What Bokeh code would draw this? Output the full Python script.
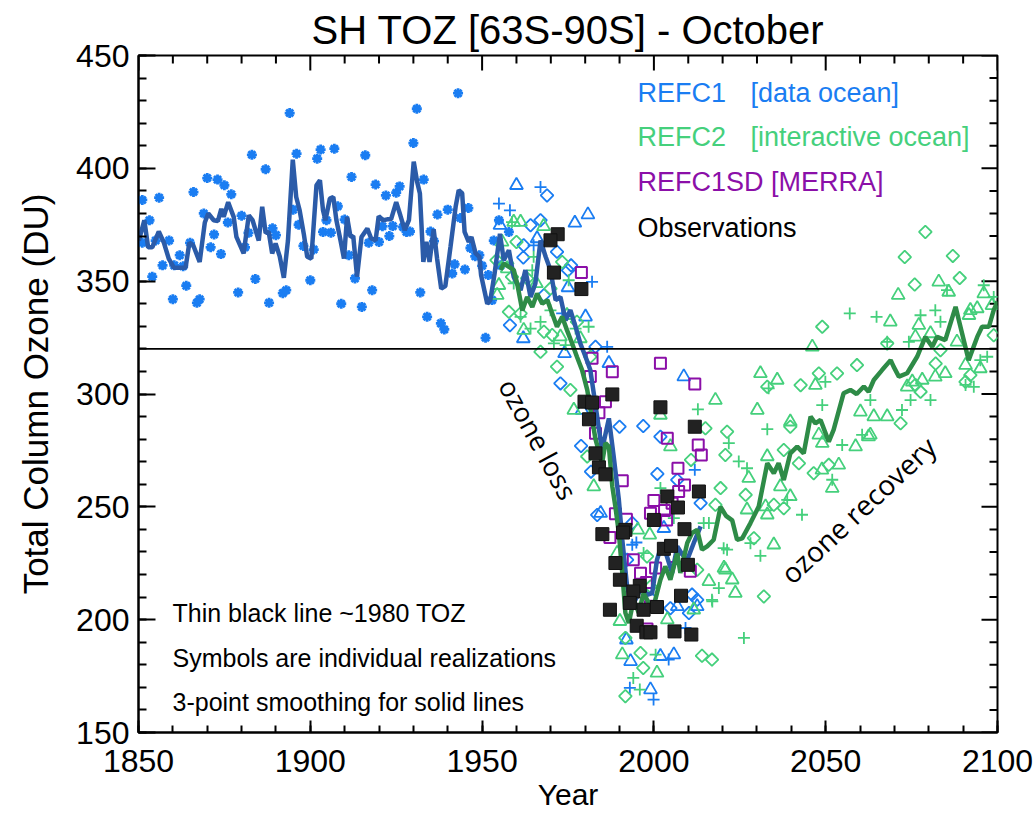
import math
from bokeh.plotting import figure
from bokeh.models import Range1d, Label, Span, SingleIntervalTicker
from bokeh.embed import file_html
from bokeh.resources import INLINE

# ---------------- data ----------------
star_yr = [1851.1, 1851.1, 1853.2, 1854, 1855, 1856, 1857, 1858.9, 1860, 1860.4, 1862, 1863, 1863.9, 1865, 1866,
           1867, 1867.8, 1869, 1870, 1871, 1872, 1873, 1874, 1875, 1876, 1877, 1879, 1880, 1881, 1882, 1883, 1884,
           1887, 1888, 1889, 1890, 1892, 1893, 1894, 1895, 1896, 1896.6, 1898, 1900, 1901, 1902, 1903, 1903.7,
           1904.7, 1906, 1907, 1908, 1909, 1910, 1911.2, 1912, 1913, 1915, 1916, 1917, 1918, 1919, 1920, 1921,
           1922, 1923, 1924, 1925, 1926, 1927, 1928, 1929, 1930, 1931, 1932, 1933, 1934, 1935, 1936, 1937, 1938,
           1939, 1940, 1941.3, 1942, 1943, 1943.7, 1945, 1946, 1946.6, 1948, 1949.2, 1950, 1951, 1951.8, 1952.9,
           1953.4, 1954.9, 1955.4, 1957.8]
star_du = [386, 367, 377, 352, 368, 387, 357, 368, 342, 357, 361.5, 356.6, 348, 367, 389.5,
           340.4, 342, 380, 395.7, 365, 370.7, 395, 362, 392.5, 376, 388.5, 345, 379, 365, 371.4, 406, 351,
           399.6, 340.4, 373.4, 370.4, 344.7, 346, 424.5, 381.7, 406.5, 375, 365.6, 350.4, 364, 404.3, 408.3, 371.8,
           377, 371.5, 408.7, 383.2, 340, 377.3, 361.5, 396.2, 351.2, 338.6, 405.8, 367, 346, 392.8, 367.4, 374.3,
           388, 370, 374.4, 389.2, 392, 374, 371.8, 372, 411.2, 426.4, 345, 395, 334.2, 372, 367.7, 379.5, 331.3,
           328.6, 381.7, 353.4, 357.5, 433.3, 378, 355.2, 382.4, 364.7, 361, 361.5, 356.8, 324.9, 352.7, 341.6,
           368, 377, 357, 371.8]

refc1_mean_yr = [1850.1, 1851.7, 1852.8, 1854, 1855.9, 1857.4, 1858.8, 1860.3, 1862.2, 1863.7, 1864.8, 1865.9,
                 1867.8, 1869.3, 1870.3, 1871.9, 1873.1, 1874.1, 1874.8, 1876.1, 1877.7, 1878.5, 1880.6, 1882.1,
                 1883.2, 1885, 1886, 1887, 1887.9, 1888.9, 1889.9, 1891.1, 1892.3, 1893.5, 1894.9, 1895.9, 1896.9,
                 1898.1, 1899.1, 1900.3, 1901.8, 1902.8, 1903.7, 1904.4, 1905.7, 1906.7, 1907.6, 1908.8, 1909.8,
                 1910.7, 1911.7, 1912.5, 1913.6, 1914.9, 1916.6, 1917.7, 1919, 1919.9, 1921.2, 1922.4, 1923.5, 1925,
                 1926.2, 1927.5, 1928.7, 1930.1, 1931.1, 1931.9, 1932.9, 1933.8, 1934.7, 1935.9, 1936.9, 1938.1,
                 1939.3, 1940.8, 1942.3, 1943.2, 1944.2, 1944.9, 1946.1, 1946.9, 1948.1, 1949.2, 1949.7, 1951.5,
                 1952.4, 1953.6, 1955.2, 1956.3, 1957.8, 1959.2, 1961.2, 1962.6, 1964.1, 1965.5, 1967, 1968.5, 1969.9,
                 1971.4, 1972.8, 1974.3, 1975.7, 1977.2, 1978.6, 1980.1, 1981.5, 1982.5, 1984.9, 1986.9, 1988.3,
                 1989.8, 1990.8, 1992.2, 1993.7, 1995.1, 1996.6, 1998, 1999.5, 2000.9, 2002.4, 2003.8, 2005.3,
                 2006.8, 2008.2, 2009.7, 2011.6, 2013.6]
refc1_mean_du = [368, 377, 365, 365, 372, 367, 360, 356, 356, 356, 367, 366,
                 358.5, 376, 380, 377, 376.6, 382, 378.5, 385, 378.5, 369.6, 362.3, 379.2,
                 377, 368, 383, 371.4, 371.8, 362.3, 366.7, 361, 351.5, 368, 403.8, 387.3, 381.4,
                 371, 360.8, 360, 392.5, 394.7, 381.4, 377, 386.6, 387.3, 377, 368, 360,
                 378.5, 369.6, 370, 352, 369.6, 373.3, 369, 368, 378.8, 377, 377.4, 377.4, 385,
                 379.2, 372.6, 377, 403, 394, 388.8, 358.5, 367.4, 358.5, 373, 360, 346.7,
                 347.8, 365.2, 383, 390.3, 389, 371.8, 367.4, 369.6, 362.3, 360.8, 352.7, 340,
                 341.6, 353, 371, 359.3, 363.7, 351.9, 346, 354.9, 343, 349, 368, 360.8, 354.9,
                 341.6, 343, 332.7, 337.2, 329.8, 322.4, 316.5, 310.6, 300.3, 275.2, 289.2, 272.3,
                 253.1, 235.4, 214.7, 205.9, 210.3, 214.8, 211, 211.8, 226.5, 234, 228, 220.7,
                 232.5, 229, 226.5, 234, 241.3]

refc2_mean_yr = [1955.4, 1956.3, 1957.8, 1959.2, 1960.2, 1961.7, 1963.1, 1964.6, 1966, 1967.5, 1969, 1970.4,
                 1971.8, 1973.3, 1974.7, 1976.2, 1977.6, 1979.1, 1980.6, 1982, 1983, 1984.9, 1985.9, 1986.9,
                 1987.9, 1988.8, 1989.8, 1990.8, 1991.7, 1992.7, 1994.1, 1995.6, 1997, 1998.5, 1999.9, 2001.9,
                 2003.3, 2004.8, 2006.8, 2007.7, 2009.7, 2011.1, 2012.6, 2014, 2015.5, 2017.4, 2019.4, 2021,
                 2022.8, 2024.2, 2025.7, 2028.1, 2030.5, 2033, 2034.9, 2036.3, 2037.8, 2039.7, 2041.7, 2043.6,
                 2045.6, 2047, 2048.5, 2050.9, 2052.3, 2055.2, 2057.2, 2059, 2061.1, 2062.5, 2064, 2066.4, 2068.9,
                 2069.8, 2071.3, 2073.7, 2076.6, 2079, 2081, 2082.4, 2084.8, 2087.8, 2089.7, 2091.6, 2094.1,
                 2095.5, 2097.5, 2098.9, 2100]
refc2_mean_du = [355, 357.8, 356.3, 355, 349, 337, 343, 338.6, 344.5, 340, 341.6, 335.7,
                 329.8, 334.2, 328.3, 322.4, 316.5, 310.6, 301.8, 289, 280, 269.3, 278.2, 276.7,
                 259, 250, 238.4, 220.7, 203, 198.5, 208.8, 203, 211.8, 207.4, 205.9, 217.7,
                 223.6, 217.7, 229.5, 220.7, 234, 238.4, 239.8, 231, 232.5, 235.4, 250, 246,
                 244, 235.4, 236, 242.8, 250.1, 269.3, 264.9, 269.3, 261.9, 273.7, 276.7, 273.7,
                 290, 287, 288.5, 278.9, 284.1, 300.3, 301.8, 300, 303.3, 301, 306.2, 310.6, 315,
                 312, 307.7, 309.2, 316.5, 325.3, 320.9, 325.3, 323.9, 338.6, 326.8, 315, 325.3,
                 329.8, 329.8, 337.2, 341]

c1_dia_yr = [1968.9, 1964.1, 1967, 1971.8, 1975, 1975.9, 1962, 1958.1, 1968, 1962.1, 1983, 1972.8, 1990, 1996.9,
             2001.9, 1978.8, 1981.7, 2001, 2006.8, 2013.6, 1993.7, 2004.8, 2011.1, 2012.6, 2010.2, 1983.5, 1992.2,
             1999]
c1_dia_du = [388, 374.8, 377, 363, 354.8, 357, 360.5, 330.5, 343.8, 365.9, 320.9, 304.7, 285.5, 285.8,
             281.1, 277, 265.6, 264.6, 261.9, 251.6, 242.8, 205.1, 211.1, 208.8, 202.9, 246.4, 226.5,
             209.6]
c1_tri_yr = [1960, 1980.8, 1977, 1980.1, 1975, 1966, 1962, 1974, 1955.2, 1986.9, 1979.1, 2008.7, 2002.9, 1984.5,
             1992, 1993.2, 2005.8, 1999, 2001.9, 2006.8, 2012.6]
c1_tri_du = [392.5, 379.5, 375.8, 334.2, 347.2, 368.9, 324.6, 318, 374.8, 313.6, 292.9, 307.7, 240.5, 247.2,
             191.1, 181.5, 184.5, 169, 183.8, 205.9, 205.9]
c1_plus_yr = [1954.9, 1958.1, 1967, 1982, 1973.3, 1965, 1986.4, 2011.9, 1994.9, 1993.7, 2004.3, 2009.2, 1993,
              1999.9]
c1_plus_du = [384.4, 381.4, 391.7, 349.7, 335.7, 365.9, 320.9, 266.4, 234.2, 233.2, 182.3, 196.3, 169.8,
              164.6]

c2_tri_yr = [1959.2, 1961.2, 1967.9, 1955.8, 1954.9, 1957.3, 1965.8, 1974.7, 1978.6, 1972.8, 1962.1, 1954.4,
             1957.3, 2017.9, 2004.8, 2001.9, 1998.8, 1995.3, 1990.1, 1990.8, 2000.9, 2003.9, 2016, 2020.4, 2011.6,
             1982.5, 1976.7, 1989.3, 2027.6, 2033, 2033, 2034.9, 2036.8, 2039.7, 2048.9, 2051.9, 2053.8, 2058.7,
             2063, 2027.1, 2020.8, 2022.8, 2023.7, 2071.1, 2082.9, 2085.8, 2096, 2068.8, 2077.1, 2046.1, 2031,
             2035.9, 2030.1, 2047, 2092.1, 2094.1, 2098.4, 2088.2, 2060.1, 2064, 2067.9, 2081.9, 2084.8, 2062.5,
             2075.2, 2039.7, 2080.5, 2091.7, 2076.1, 2078.1, 2090.7, 2073.7, 2095, 2048, 2032.5, 2049]
c2_tri_du = [376.2, 376.2, 374.3, 367.4, 348.2, 355.6, 349, 334.9, 324.6, 325.4, 328.3, 343.8,
             359.3, 297.3, 276.7, 290.7, 237.6, 239.8, 199.3, 184.5, 176.4, 200, 217, 222.9, 204.4,
             259, 292.9, 229.5, 262.7, 272.3, 246.5, 233.2, 259, 254.6, 266.4, 258.3, 268.6, 276.7,
             281.9, 248.7, 222.1, 217.7, 211.8, 343.8, 349.7, 345.2, 344.5, 332, 330.5, 320.9, 309.1,
             306.2, 292.9, 303.9, 337.1, 337.9, 339.3, 323.1, 292.1, 290, 290, 307.6, 309.1, 281.1,
             305.4, 287.7, 326.8, 334.9, 325.3, 306.2, 312.8, 303.2, 311.3, 281.9, 250.1, 278.2]
c2_dia_yr = [1960, 1973.3, 1963.1, 1957.8, 1961.2, 1967, 1970.4, 1977.6, 1981.5, 1969.9, 1954.2, 1968, 1971.8,
             1958.7, 1975.7, 2015, 2020.8, 2021.3, 2010.8, 2017.9, 2019.4, 1991.7, 1996.1, 1996.9, 1991.7, 2014,
             2016.9, 2012.6, 1980.6, 1998, 1999, 2032, 2026.7, 2029.1, 2034.9, 2037.8, 2046.5, 2050.9, 2071.8,
             2042.2, 2079, 2073, 2087, 2089, 2075.9, 2049, 2048, 2033, 2042.7, 2053.3, 2082, 2083.4, 2090.7,
             2098.9, 2067.9, 2059.1, 2076.1, 2077.6, 2092.1, 2039.7, 2037.8]
c2_dia_du = [367.4, 358.5, 351.2, 336.4, 335.7, 318.7, 326.1, 332, 316.5, 346.7, 359.3, 327.6, 312.1,
             351.9, 301.8, 284.8, 273, 283.3, 270.8, 250.9, 258.3, 191.9, 185.2, 178.6, 166.1, 184,
             182.3, 222.1, 272.3, 228, 214.7, 210.3, 255.3, 236.1, 250.9, 275.2, 264.9, 268.6, 287,
             269.3, 371.8, 360.7, 361.2, 351.4, 348.5, 329.8, 309.1, 303.2, 303.9, 309.1, 313.5, 319.4, 305.4,
             326, 322.4, 312.8, 304, 301, 308.4, 285.5, 249.4]
c2_plus_yr = [1958.7, 1965, 1959.2, 1964.6, 1975.2, 1967, 1981, 1977.2, 1969.9, 1961.2, 1964.1, 1974.3, 1970.9,
              2012.8, 2016.9, 2018.9, 1994, 1995.9, 2001.9, 1997, 2016, 2000.5, 2021.3, 2005.8, 2033, 2021.8,
              2024.7, 2043.1, 2054.8, 2060.6, 2026.2, 2031, 2017, 2028.1, 2020.3, 2051.9, 2057, 2064.8, 2077.6,
              2081.9, 2096, 2098.9, 2074.2, 2067.9, 2049.9, 2033.4, 2049, 2063, 2074.7, 2080.5, 2072.2, 2093.1,
              2085.3, 2097, 2083.4, 2095, 2090.7, 2027.1, 2014.5, 2038.8]
c2_plus_du = [376.2, 360.8, 349, 354.8, 350.4, 332, 329.8, 329, 337.1, 334.2, 329, 321.7, 322.4,
              293.2, 208.8, 214, 174.2, 169, 258.3, 229.5, 242.8, 184.5, 231, 245, 284.4, 278.2,
              270.1, 246.5, 277.4, 281.9, 191.9, 228.3, 208.1, 233.9, 231.7, 262, 335.7, 334.2, 334.9,
              337.1, 348.2, 343, 323.1, 323.1, 305.4, 302.5, 295.1, 297.3, 297.3, 297.3, 292.9, 303.2,
              346, 316.5, 332, 315, 304, 267.1, 242.8, 253.1]

sd_yr = [1978.9, 1982, 2001.9, 1987.9, 2011.9, 1981.5, 1985.9, 1984, 1983, 2003.9, 2012.9, 2013.8, 1990.8, 2007,
         2008.9, 2000, 2003.1, 1992, 1988.8, 1987.2, 1994, 1996.1, 1997.8, 2007.2, 2010.6, 1998, 2003.7, 2005.3,
         1999, 2000.5, 2005.7, 1999]
sd_du = [353.8, 315.8, 313.6, 309.9, 304.4, 307.7, 296.6, 291.7, 282.6, 280.4, 277.4, 273, 261.6, 267.1,
         259.7, 252.8, 248.4, 244.5, 246.9, 236.4, 226.5, 220.6, 216.5, 256.8, 221.4, 195.9, 244.2, 251.6,
         247.2, 222.9, 228, 205.9]

obs_yr = [1972, 1969.9, 1970.9, 1978.9, 1987.9, 1979.8, 1982, 1981.1, 2001.9, 2011.9, 1983, 1984, 1985.9, 2003.9,
          2007, 2013.1, 2000, 2008.9, 1985, 1991.7, 1991, 2002.9, 2005, 2009.9, 1988.8, 1990.1, 1995.9, 1994, 1993,
          1987.2, 1997, 2000.9, 2007.9, 1995, 1997.8, 1999, 2006, 2010.9]
obs_du = [370.8, 368.1, 353.8, 346.5, 299.8, 296.6, 296.2, 288.8, 294.1, 285.5, 273.7, 267.5, 264.4, 254.6,
          249.7, 256.8, 244.2, 240.1, 237.9, 239.8, 238.6, 231.4, 232.7, 224.3, 225.1, 217.7, 215, 212.5, 207.4,
          204.4, 204.4, 205.6, 210.6, 197.3, 194.4, 194.4, 194.8, 193.4]

toz_1980 = 320

X_MIN, X_MAX, Y_MIN, Y_MAX = 1850, 2100, 150, 450
X_MAJOR, X_MINOR, Y_MAJOR, Y_MINOR = 50, 10, 50, 10

# ---------------- styling ----------------
BLUE = "#1a7df2"
GREEN = "#45d07c"
PURPLE = "#8b0fa8"
DBLUE = "#2b5ba8"
DGREEN = "#2e8b47"
FONT = "Liberation Sans"

p = figure(width=1035, height=813, x_range=Range1d(X_MIN, X_MAX), y_range=Range1d(Y_MIN, Y_MAX),
           output_backend="svg", toolbar_location=None,
           min_border_left=138, min_border_right=38, min_border_top=55, min_border_bottom=80)
p.background_fill_color = "white"
p.border_fill_color = "white"
p.outline_line_color = "black"
p.outline_line_width = 2
p.xgrid.visible = False
p.ygrid.visible = False

p.title.text = "SH TOZ [63S-90S] - October"
p.title.align = "center"
p.title.text_font = FONT
p.title.text_font_size = "40px"
p.title.text_font_style = "normal"
p.title.text_color = "black"
p.title.standoff = 7

def style_axis(ax, major_in, minor_in):
    ax.axis_line_width = 2
    ax.axis_line_color = "black"
    ax.major_tick_in = major_in
    ax.major_tick_out = 0
    ax.minor_tick_in = minor_in
    ax.minor_tick_out = 0
    ax.major_tick_line_width = 2
    ax.minor_tick_line_width = 2
    ax.major_tick_line_color = "black"
    ax.minor_tick_line_color = "black"
    ax.axis_label_text_font = FONT
    ax.axis_label_text_font_style = "normal"
    ax.major_label_text_font = FONT
    ax.major_label_text_color = "black"
    ax.axis_label_text_color = "black"

p.xaxis.ticker = SingleIntervalTicker(interval=X_MAJOR, num_minor_ticks=X_MAJOR // X_MINOR)
p.yaxis.ticker = SingleIntervalTicker(interval=Y_MAJOR, num_minor_ticks=Y_MAJOR // Y_MINOR)
style_axis(p.xaxis[0], 12, 7)
style_axis(p.yaxis[0], 17, 8)
p.xaxis.axis_label = "Year"
p.yaxis.axis_label = "Total Column Ozone (DU)"
p.xaxis.major_label_text_font_size = "32px"
p.yaxis.major_label_text_font_size = "32px"
p.xaxis.axis_label_text_font_size = "30px"
p.yaxis.axis_label_text_font_size = "35px"
p.xaxis.major_label_standoff = 17
p.xaxis.axis_label_standoff = 3
p.yaxis.major_label_standoff = 9
p.yaxis.axis_label_standoff = 18

# mirrored ticks on the top and right frame edges (inward, no labels)
top_major = list(range(X_MIN, X_MAX + 1, X_MAJOR))
top_minor = [v for v in range(X_MIN, X_MAX + 1, X_MINOR) if v not in top_major]
right_major = list(range(Y_MIN, Y_MAX + 1, Y_MAJOR))
right_minor = [v for v in range(Y_MIN, Y_MAX + 1, Y_MINOR) if v not in right_major]
p.ray(x=top_major, y=[Y_MAX] * len(top_major), length=15, length_units="screen",
      angle=-math.pi / 2, line_color="black", line_width=2)
p.ray(x=top_minor, y=[Y_MAX] * len(top_minor), length=8, length_units="screen",
      angle=-math.pi / 2, line_color="black", line_width=2)
p.ray(x=[X_MAX] * len(right_major), y=right_major, length=16, length_units="screen",
      angle=math.pi, line_color="black", line_width=2)
p.ray(x=[X_MAX] * len(right_minor), y=right_minor, length=8, length_units="screen",
      angle=math.pi, line_color="black", line_width=2)

# 1980 reference line
p.add_layout(Span(location=toz_1980, dimension="width", line_color="black", line_width=1.6))

# symbols
DIA = math.pi / 4
p.scatter(star_yr, star_du, marker="asterisk", size=10, line_color=BLUE, line_width=2.8)
p.scatter(c1_dia_yr, c1_dia_du, marker="square", angle=DIA, size=9, fill_color=None, line_color=BLUE, line_width=1.8)
p.scatter(c1_tri_yr, c1_tri_du, marker="triangle", size=13, fill_color=None, line_color=BLUE, line_width=1.8)
p.scatter(c1_plus_yr, c1_plus_du, marker="cross", size=12, line_color=BLUE, line_width=1.8)
p.scatter(c2_dia_yr, c2_dia_du, marker="square", angle=DIA, size=9, fill_color=None, line_color=GREEN, line_width=1.8)
p.scatter(c2_tri_yr, c2_tri_du, marker="triangle", size=13, fill_color=None, line_color=GREEN, line_width=1.8)
p.scatter(c2_plus_yr, c2_plus_du, marker="cross", size=12, line_color=GREEN, line_width=1.8)
p.scatter(sd_yr, sd_du, marker="square", size=11, fill_color=None, line_color=PURPLE, line_width=2)

# smoothed means
p.line(refc1_mean_yr, refc1_mean_du, line_color=DBLUE, line_width=4.5)
p.line(refc2_mean_yr, refc2_mean_du, line_color=DGREEN, line_width=4.5)

# observations
p.scatter(obs_yr, obs_du, marker="square", size=13, fill_color="#222222", line_color="#111111", line_width=1)

# texts
def lab(x, y, text, color, size="27px", font=FONT, angle=0.0, align="left"):
    p.add_layout(Label(x=x, y=y, text=text, text_color=color, text_font=font, text_font_size=size,
                       text_baseline="middle", text_align=align, angle=angle))

lab(1995.2, 433.6, "REFC1", BLUE)
lab(2028.1, 433.6, "[data ocean]", BLUE)
lab(1995.2, 413.7, "REFC2", GREEN)
lab(2028.1, 413.7, "[interactive ocean]", GREEN)
lab(1995.2, 393.8, "REFC1SD [MERRA]", PURPLE)
lab(1995.2, 373.5, "Observations", "black")

lab(1859.9, 203.1, "Thin black line ~1980 TOZ", "black", size="25px")
lab(1859.9, 183.2, "Symbols are individual realizations", "black", size="25px")
lab(1859.9, 163.3, "3-point smoothing for solid lines", "black", size="25px")

lab(1966.4, 280.1, "ozone loss", "black", size="27px", font="Open Sans", angle=-1.073, align="center")
lab(2059.4, 248.7, "ozone recovery", "black", size="28px", font="Open Sans", angle=0.75, align="center")

open("out.html", "w").write(file_html(p, INLINE))
